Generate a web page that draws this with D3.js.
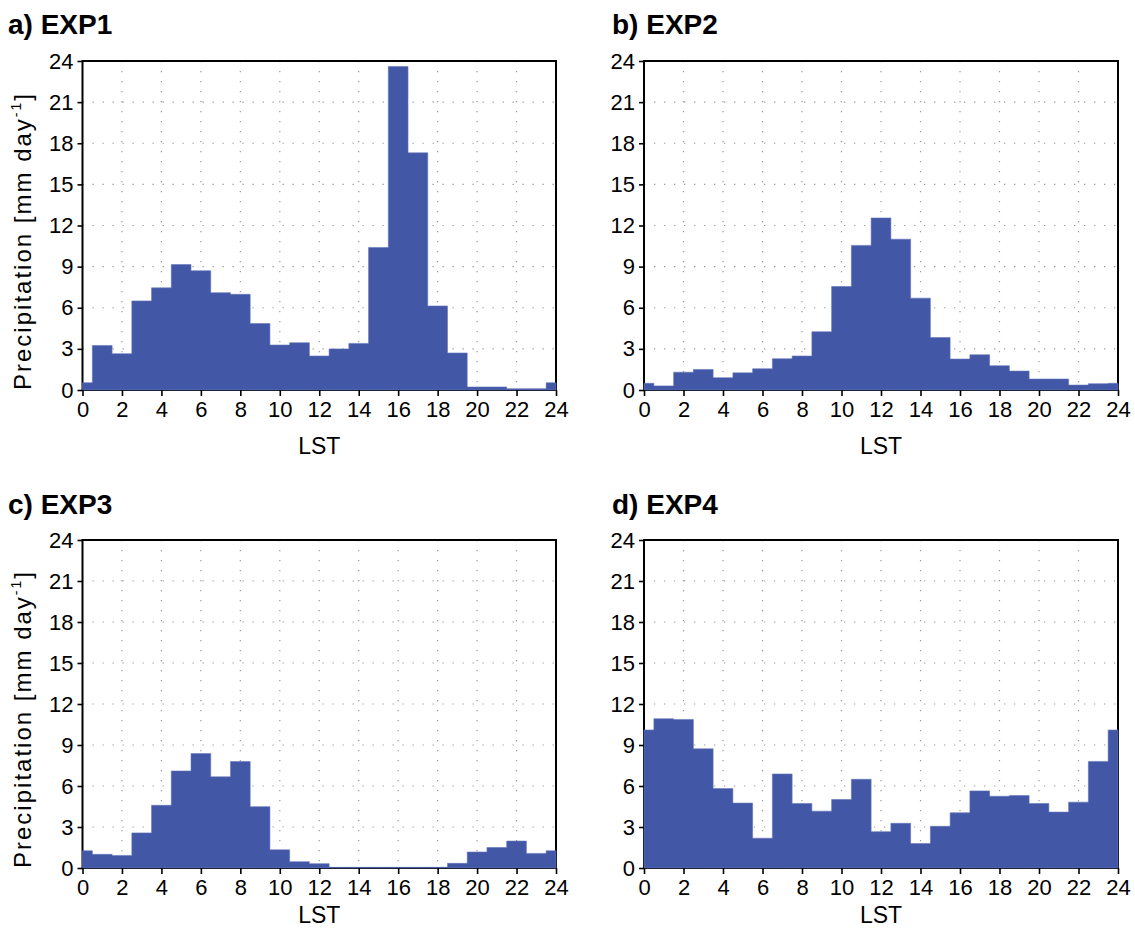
<!DOCTYPE html>
<html>
<head>
<meta charset="utf-8">
<script src="https://cdn.jsdelivr.net/npm/d3@7"></script>
<style>
  body { margin: 0; background: #fff; }
  svg { display: block; }
</style>
</head>
<body>
<svg id="chart" width="1135" height="930"></svg>
<script>
// ---------------- DATA ----------------
const hours = [0,1,2,3,4,5,6,7,8,9,10,11,12,13,14,15,16,17,18,19,20,21,22,23,24];
const xTickValues = [0,2,4,6,8,10,12,14,16,18,20,22,24];
const yTickValues = [0,3,6,9,12,15,18,21,24];
const panelTitles = ["a) EXP1", "b) EXP2", "c) EXP3", "d) EXP4"];
const xAxisLabel = "LST";
const yAxisLabel = "Precipitation [mm day";
const yAxisLabelSup = "-1";

const exp1 = [0.53,3.25,2.65,6.5,7.45,9.15,8.7,7.1,6.98,4.85,3.28,3.45,2.48,3.0,3.4,10.4,23.6,17.3,6.13,2.7,0.22,0.22,0.1,0.1,0.53];
const exp2 = [0.49,0.3,1.3,1.5,0.9,1.25,1.55,2.28,2.48,4.25,7.55,10.55,12.55,11.0,6.7,3.83,2.26,2.57,1.77,1.38,0.8,0.8,0.36,0.46,0.49];
const exp3 = [1.26,1.0,0.92,2.57,4.59,7.1,8.37,6.67,7.79,4.49,1.33,0.46,0.32,0.05,0.05,0.05,0.05,0.05,0.05,0.34,1.17,1.5,1.97,1.07,1.26];
const exp4 = [10.1,10.92,10.87,8.72,5.81,4.75,2.18,6.88,4.72,4.16,5.01,6.49,2.66,3.27,1.79,3.05,4.04,5.64,5.25,5.3,4.72,4.09,4.82,7.8,10.1];
const seriesList = [exp1, exp2, exp3, exp4];

// ---------------- LAYOUT ----------------
const layout = [
  { x0: 82.5, x1: 556,  y0: 61,  y1: 390, titleX: 8,   titleY: 34,  lstOff: 64, yTitle: true },
  { x0: 644,  x1: 1118, y0: 61,  y1: 390, titleX: 612, titleY: 34,  lstOff: 64, yTitle: false },
  { x0: 82.5, x1: 556,  y0: 540, y1: 868, titleX: 8,   titleY: 514, lstOff: 55, yTitle: true },
  { x0: 644,  x1: 1118, y0: 540, y1: 868, titleX: 612, titleY: 514, lstOff: 55, yTitle: false }
];
const FONT = "'Liberation Sans', Arial, Helvetica, sans-serif";
const BAR = "#4357a7";

const svg = d3.select("#chart");

layout.forEach((p, k) => {
  const values = seriesList[k];
  const x = d3.scaleLinear().domain([0, 24]).range([p.x0, p.x1]);
  const y = d3.scaleLinear().domain([0, 24]).range([p.y1, p.y0]);
  const g = svg.append("g");

  // title
  g.append("text")
    .attr("x", p.titleX).attr("y", p.titleY)
    .attr("font-family", FONT).attr("font-weight", "bold").attr("font-size", 28)
    .attr("fill", "#000")
    .text(panelTitles[k]);

  // dotted grid
  g.append("g").selectAll("line")
    .data(xTickValues.filter(t => t > 0 && t < 24))
    .join("line")
    .attr("x1", d => x(d)).attr("x2", d => x(d))
    .attr("y1", p.y0).attr("y2", p.y1)
    .attr("stroke", "#9a9a9a").attr("stroke-width", 1.2)
    .attr("stroke-dasharray", "1.3,8.7");
  g.append("g").selectAll("line")
    .data(yTickValues.filter(t => t > 0 && t < 24))
    .join("line")
    .attr("x1", p.x0).attr("x2", p.x1)
    .attr("y1", d => y(d)).attr("y2", d => y(d))
    .attr("stroke", "#9a9a9a").attr("stroke-width", 1.2)
    .attr("stroke-dasharray", "1.3,8.7");

  // frame
  g.append("rect")
    .attr("x", p.x0).attr("y", p.y0)
    .attr("width", p.x1 - p.x0).attr("height", p.y1 - p.y0)
    .attr("fill", "none").attr("stroke", "#000").attr("stroke-width", 2);

  // step area (bins centred on each hour)
  const area = d3.area()
    .x((d, i) => x(hours[i]))
    .y0(y(0))
    .y1(d => y(d))
    .curve(d3.curveStep);
  g.append("path")
    .datum(values)
    .attr("d", area)
    .attr("fill", BAR)
    .attr("stroke", "#6576bb").attr("stroke-width", 0.6);

  // x axis
  const xa = d3.axisBottom(x).tickValues(xTickValues).tickSize(6).tickSizeOuter(0).tickPadding(5)
    .tickFormat(d3.format("d"));
  const gx = g.append("g").attr("transform", `translate(0,${p.y1})`).call(xa);
  gx.select(".domain").remove();
  gx.selectAll(".tick line").attr("stroke", "#000").attr("stroke-width", 1.6);
  gx.selectAll(".tick text").attr("font-family", FONT).attr("font-size", 22).attr("fill", "#000");

  // y axis
  const ya = d3.axisLeft(y).tickValues(yTickValues).tickSize(5).tickSizeOuter(0).tickPadding(4)
    .tickFormat(d3.format("d"));
  const gy = g.append("g").attr("transform", `translate(${p.x0},0)`).call(ya);
  gy.select(".domain").remove();
  gy.selectAll(".tick line").attr("stroke", "#000").attr("stroke-width", 1.6);
  gy.selectAll(".tick text").attr("font-family", FONT).attr("font-size", 22).attr("fill", "#000");

  // x axis label
  g.append("text")
    .attr("x", (p.x0 + p.x1) / 2).attr("y", p.y1 + p.lstOff)
    .attr("text-anchor", "middle")
    .attr("font-family", FONT).attr("font-size", 23).attr("fill", "#000")
    .text(xAxisLabel);

  // y axis label
  if (p.yTitle) {
    const cy = p.y1 - 148;
    const t = g.append("text")
      .attr("transform", `translate(31,${cy}) rotate(-90)`)
      .attr("text-anchor", "middle")
      .attr("font-family", FONT).attr("font-size", 24).attr("fill", "#000")
      .attr("textLength", 296).attr("lengthAdjust", "spacing");
    t.append("tspan").text(yAxisLabel);
    t.append("tspan").attr("dy", -10).attr("font-size", 14).text(yAxisLabelSup);
    t.append("tspan").attr("dy", 10).text("]");
  }
});
</script>
</body>
</html>
